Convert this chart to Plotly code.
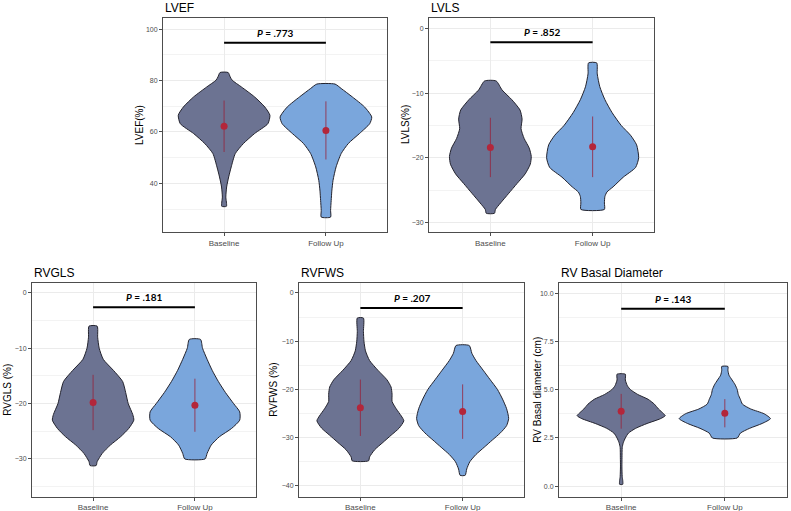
import plotly.graph_objects as go

groups = ["Baseline", "Follow Up"]

# density profile: y level -> half width (category units)
lvef_base_y = [83.1, 81.4, 80.1, 77.5, 73.6, 69.7, 66.5, 63.2, 59.4, 55.5, 51.6, 46.4, 42.5, 38.6, 34.7, 31.1]
lvef_base_w = [0.04, 0.06, 0.08, 0.17, 0.30, 0.40, 0.45, 0.43, 0.30, 0.19, 0.11, 0.07, 0.045, 0.025, 0.017, 0.023]
lvef_fu_y = [78.6, 76.9, 73.6, 69.7, 65.8, 63.2, 59.4, 55.5, 51.6, 46.4, 41.2, 37.0, 33.4, 29.5, 26.9]
lvef_fu_w = [0.09, 0.15, 0.26, 0.38, 0.45, 0.43, 0.33, 0.22, 0.15, 0.10, 0.07, 0.058, 0.052, 0.046, 0.046]

lvls_base_y = [-8.1, -9.5, -11, -12.6, -14, -15.5, -17, -18.5, -19.8, -21, -22.5, -24, -25.5, -27, -28, -28.6]
lvls_base_w = [0.057, 0.115, 0.21, 0.29, 0.31, 0.30, 0.33, 0.38, 0.40, 0.39, 0.34, 0.26, 0.18, 0.10, 0.05, 0.04]
lvls_fu_y = [-5.3, -7, -9, -11, -13, -15, -16.5, -18, -20, -21.5, -23, -24.5, -25.3, -26, -27, -28]
lvls_fu_w = [0.04, 0.045, 0.07, 0.12, 0.19, 0.28, 0.37, 0.43, 0.45, 0.42, 0.30, 0.20, 0.14, 0.12, 0.115, 0.115]

rvgls_base_y = [-6, -8, -10, -12, -14, -16, -18, -20, -22, -23, -24.5, -26, -27.5, -29, -30.5, -31.2]
rvgls_base_w = [0.04, 0.045, 0.06, 0.10, 0.20, 0.29, 0.32, 0.345, 0.39, 0.40, 0.35, 0.27, 0.17, 0.09, 0.04, 0.03]
rvgls_fu_y = [-8.4, -10, -12, -14, -16, -18, -20, -21.5, -23, -24.5, -26, -27.5, -29, -30]
rvgls_fu_w = [0.055, 0.075, 0.12, 0.17, 0.23, 0.30, 0.38, 0.44, 0.44, 0.36, 0.24, 0.16, 0.12, 0.10]

rvfws_base_y = [-5.2, -8, -10, -12, -14, -16, -18, -19.5, -21, -22.5, -24, -25.5, -26.5, -28, -29.5, -31, -32.5, -34, -34.8]
rvfws_base_w = [0.03, 0.03, 0.035, 0.05, 0.09, 0.17, 0.26, 0.30, 0.31, 0.31, 0.35, 0.40, 0.425, 0.38, 0.30, 0.22, 0.14, 0.09, 0.08]
rvfws_fu_y = [-10.9, -12.5, -14, -16, -18, -20, -22, -24, -26, -27.5, -29, -30.5, -32, -33.5, -35, -36.5, -37.8]
rvfws_fu_w = [0.065, 0.09, 0.13, 0.20, 0.27, 0.34, 0.39, 0.43, 0.45, 0.43, 0.37, 0.29, 0.21, 0.13, 0.07, 0.04, 0.025]

rvbd_base_y = [5.8, 5.5, 5.2, 5.0, 4.75, 4.5, 4.25, 4.0, 3.75, 3.65, 3.5, 3.25, 3.0, 2.75, 2.5, 2.25, 2.0, 1.5, 1.0, 0.5, 0.3, 0.1]
rvbd_base_w = [0.04, 0.04, 0.06, 0.09, 0.16, 0.26, 0.32, 0.36, 0.41, 0.425, 0.38, 0.25, 0.14, 0.07, 0.04, 0.02, 0.01, 0.008, 0.007, 0.01, 0.015, 0.015]
rvbd_fu_y = [6.2, 6.0, 5.75, 5.5, 5.25, 5.0, 4.75, 4.5, 4.25, 4.0, 3.75, 3.5, 3.25, 3.0, 2.75, 2.5]
rvbd_fu_w = [0.03, 0.03, 0.04, 0.07, 0.10, 0.12, 0.13, 0.15, 0.17, 0.25, 0.38, 0.44, 0.36, 0.24, 0.15, 0.12]

# mean and sd (Baseline, Follow Up)
lvef_mean, lvef_sd = [62.2, 60.6], [10.0, 11.3]
lvls_mean, lvls_sd = [-18.4, -18.3], [4.6, 4.7]
rvgls_mean, rvgls_sd = [-19.8, -20.3], [5.0, 4.8]
rvfws_mean, rvfws_sd = [-23.8, -24.6], [5.85, 5.65]
rvbd_mean, rvbd_sd = [3.88, 3.78], [0.9, 0.73]

titles = ["LVEF", "LVLS", "RVGLS", "RVFWS", "RV Basal Diameter"]
ytitles = ["LVEF(%)", "LVLS(%)", "RVGLS (%)", "RVFWS (%)", "RV Basal diameter (cm)"]
p_labels = [".773", ".852", ".181", ".207", ".143"]
p_y = [94.7, -2.1, -2.6, -3.1, 9.19]

W, H = 791, 511
# panel boxes in pixels: left, right, top, bottom
boxes = [(163, 387, 18, 232), (429, 654, 18, 232),
         (32, 256, 283, 496.5), (299, 524, 283, 496.5), (559, 787, 283, 496.5)]
ytitle_x = [140, 406, 8, 274, 538]
yranges = [[21.1, 104.3], [-31.5, 1.66], [-36.8, 1.8], [-42.2, 2.07], [-0.53, 10.52]]
ydticks = [20, 10, 10, 10, 2.5]

BASE_COL = "rgb(108,115,146)"
FU_COL = "rgb(122,166,220)"
EDGE = "#23232e"
FONT = "Liberation Sans"


def outline(pos, ys, ws):
  xs = [pos - w for w in ws] + [pos + w for w in ws[::-1]]
  yy = list(ys) + list(ys[::-1])
  return xs + [xs[0]], yy + [yy[0]]


def main():
  profiles = [
    [(lvef_base_y, lvef_base_w), (lvef_fu_y, lvef_fu_w)],
    [(lvls_base_y, lvls_base_w), (lvls_fu_y, lvls_fu_w)],
    [(rvgls_base_y, rvgls_base_w), (rvgls_fu_y, rvgls_fu_w)],
    [(rvfws_base_y, rvfws_base_w), (rvfws_fu_y, rvfws_fu_w)],
    [(rvbd_base_y, rvbd_base_w), (rvbd_fu_y, rvbd_fu_w)],
  ]
  means = [lvef_mean, lvls_mean, rvgls_mean, rvfws_mean, rvbd_mean]
  sds = [lvef_sd, lvls_sd, rvgls_sd, rvfws_sd, rvbd_sd]

  fig = go.Figure()
  annos = []
  for i in range(5):
    n = i + 1
    xa = "x" if n == 1 else f"x{n}"
    ya = "y" if n == 1 else f"y{n}"
    for k, (ys, ws) in enumerate(profiles[i]):
      xs, yy = outline(k + 1, ys, ws)
      fig.add_trace(go.Scatter(x=xs, y=yy, xaxis=xa, yaxis=ya, mode="lines",
                               fill="toself", fillcolor=[BASE_COL, FU_COL][k],
                               line=dict(color=EDGE, width=1, shape="spline", smoothing=0.6),
                               hoverinfo="skip", showlegend=False))
    fig.add_trace(go.Scatter(x=[1, 2], y=means[i], xaxis=xa, yaxis=ya, mode="markers",
                             marker=dict(color="#b3263a", size=7),
                             error_y=dict(type="data", array=sds[i], color="rgba(150,35,60,0.8)",
                                          thickness=1, width=0),
                             showlegend=False))
    fig.add_trace(go.Scatter(x=[1, 2], y=[p_y[i], p_y[i]], xaxis=xa, yaxis=ya, mode="lines",
                             line=dict(color="black", width=2), showlegend=False))

    l, r, t, b = boxes[i]
    dom_x = [l / W, r / W]
    dom_y = [1 - b / H, 1 - t / H]
    fig.layout[f"xaxis{'' if n == 1 else n}"] = dict(
      domain=dom_x, anchor=ya, range=[0.4, 2.6], tickvals=[1, 2], ticktext=groups,
      showgrid=True, gridcolor="#ebebeb", gridwidth=1, zeroline=False,
      showline=True, mirror=True, linecolor="#4d4d4d", linewidth=1,
      ticks="outside", ticklen=3, tickcolor="#4d4d4d",
      tickfont=dict(family=FONT, size=8, color="#4d4d4d"))
    d = ydticks[i]
    fig.layout[f"yaxis{'' if n == 1 else n}"] = dict(
      domain=dom_y, anchor=xa, range=yranges[i], tick0=0, dtick=d,
      tickformat=".1f" if i == 4 else "d",
      showgrid=True, gridcolor="#ebebeb", gridwidth=1, zeroline=False,
      minor=dict(dtick=d / 2, tick0=0, showgrid=True, gridcolor="#f3f3f3", gridwidth=1, ticks=""),
      showline=True, mirror=True, linecolor="#4d4d4d", linewidth=1,
      ticks="outside", ticklen=3, tickcolor="#4d4d4d",
      tickfont=dict(family=FONT, size=7, color="#4d4d4d"))

    annos.append(dict(x=l / W, y=1 - t / H, xref="paper", yref="paper", xanchor="left",
                      yanchor="bottom", yshift=1, showarrow=False, text=titles[i],
                      font=dict(family=FONT, size=12, color="black")))
    annos.append(dict(x=ytitle_x[i] / W, y=1 - (t + b) / 2 / H, xref="paper", yref="paper",
                      xanchor="center", yanchor="middle", textangle=-90, showarrow=False,
                      text=ytitles[i], font=dict(family=FONT, size=10, color="black")))
    annos.append(dict(x=1.5, y=p_y[i], xref=xa, yref=ya, xanchor="center", yanchor="bottom",
                      yshift=2, showarrow=False,
                      text=f"<b><i>P</i> = {p_labels[i]}</b>",
                      font=dict(family="Lato", size=10, color="black")))

  fig.update_layout(width=W, height=H, margin=dict(l=0, r=0, t=0, b=0),
                    paper_bgcolor="white", plot_bgcolor="white",
                    annotations=annos, showlegend=False)
  # drop the default page margin so the figure sits at the window corner
  fig.write_html("out.html", config={"displayModeBar": False},
                 post_script="document.body.style.margin='0px';")


if __name__ == "__main__":
  main()
